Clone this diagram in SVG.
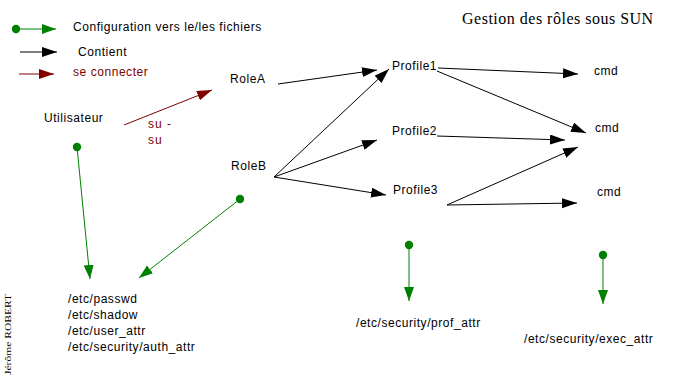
<svg xmlns="http://www.w3.org/2000/svg" width="681" height="379" viewBox="0 0 681 379">
<style>
text{font-family:"Liberation Sans",Arial,sans-serif;font-size:12px;fill:#000;letter-spacing:0.55px}
.red{fill:#800000}
.k{stroke:#000;stroke-width:1;fill:none}
.r{stroke:#800000;stroke-width:1;fill:none}
.g{stroke:#008000;stroke-width:1;fill:none}
.serif{font-family:"Liberation Serif","Times New Roman",serif;letter-spacing:0}
</style>
<defs>
<marker id="ak" markerUnits="userSpaceOnUse" markerWidth="16" markerHeight="12" refX="15" refY="5" orient="auto"><path d="M0,0 L15,5 L0,10 Z" fill="#000"/></marker>
<marker id="ar" markerUnits="userSpaceOnUse" markerWidth="16" markerHeight="12" refX="15" refY="5" orient="auto"><path d="M0,0 L15,5 L0,10 Z" fill="#800000"/></marker>
<marker id="ag" markerUnits="userSpaceOnUse" markerWidth="16" markerHeight="12" refX="14" refY="5" orient="auto"><path d="M0,0 L14,5 L0,10 Z" fill="#008000"/></marker>
<marker id="dg" markerUnits="userSpaceOnUse" markerWidth="10" markerHeight="10" refX="5" refY="5"><circle cx="5" cy="5" r="4.2" fill="#008000"/></marker>
</defs>
<text class="serif" x="462" y="24" style="font-size:16px;letter-spacing:0.5px">Gestion des rôles sous SUN</text>
<text class="serif" transform="translate(11,375) rotate(-90)" style="font-size:9px" textLength="81" lengthAdjust="spacingAndGlyphs">Jérôme ROBERT</text>
<g id="legend">
<line class="g" x1="16" y1="29" x2="56" y2="29" marker-start="url(#dg)" marker-end="url(#ag)"/>
<text x="73" y="31">Configuration vers le/les fichiers</text>
<line class="k" x1="20" y1="52" x2="57" y2="52" marker-end="url(#ak)"/>
<text x="78" y="56">Contient</text>
<line class="r" x1="19" y1="74" x2="54" y2="74" marker-end="url(#ar)"/>
<text class="red" x="73" y="76">se connecter</text>
</g>
<g id="utilisateur"><text x="44" y="122">Utilisateur</text></g>
<g id="roleA"><text x="230" y="83">RoleA</text></g>
<g id="roleB"><text x="231" y="170">RoleB</text></g>
<g id="profile1"><text x="392" y="70">Profile1</text></g>
<g id="profile2"><text x="392" y="135">Profile2</text></g>
<g id="profile3"><text x="393" y="194">Profile3</text></g>
<g id="cmd1"><text x="594" y="75">cmd</text></g>
<g id="cmd2"><text x="595" y="132">cmd</text></g>
<g id="cmd3"><text x="597" y="196">cmd</text></g>
<g id="files-user"><text x="68" y="303">/etc/passwd</text><text x="68" y="319">/etc/shadow</text><text x="68" y="335">/etc/user_attr</text><text x="68" y="351">/etc/security/auth_attr</text></g>
<g id="files-prof"><text x="356" y="327">/etc/security/prof_attr</text></g>
<g id="files-exec"><text x="524" y="343">/etc/security/exec_attr</text></g>
<g id="connectors">
<line class="r" x1="124" y1="125" x2="212" y2="90" marker-end="url(#ar)"/>
<text class="red" x="148" y="128" style="letter-spacing:1px">su -</text>
<text class="red" x="148" y="144" style="letter-spacing:1px">su</text>
<line class="k" x1="278" y1="84" x2="377" y2="70" marker-end="url(#ak)"/>
<line class="k" x1="274" y1="177" x2="389" y2="69" marker-end="url(#ak)"/>
<line class="k" x1="274" y1="177" x2="377" y2="140" marker-end="url(#ak)"/>
<line class="k" x1="274" y1="177" x2="386" y2="195" marker-end="url(#ak)"/>
<line class="k" x1="438" y1="68" x2="578" y2="74" marker-end="url(#ak)"/>
<line class="k" x1="437" y1="71" x2="586" y2="133" marker-end="url(#ak)"/>
<line class="k" x1="437" y1="136" x2="565" y2="140" marker-end="url(#ak)"/>
<line class="k" x1="447" y1="205" x2="578" y2="147" marker-end="url(#ak)"/>
<line class="k" x1="447" y1="205" x2="577" y2="203" marker-end="url(#ak)"/>
<line class="g" x1="77" y1="147" x2="90" y2="279" marker-start="url(#dg)" marker-end="url(#ag)"/>
<line class="g" x1="240" y1="199" x2="139" y2="278" marker-start="url(#dg)" marker-end="url(#ag)"/>
<line class="g" x1="409" y1="245" x2="409" y2="301" marker-start="url(#dg)" marker-end="url(#ag)"/>
<line class="g" x1="603" y1="255" x2="603" y2="304" marker-start="url(#dg)" marker-end="url(#ag)"/>
</g>
</svg>
